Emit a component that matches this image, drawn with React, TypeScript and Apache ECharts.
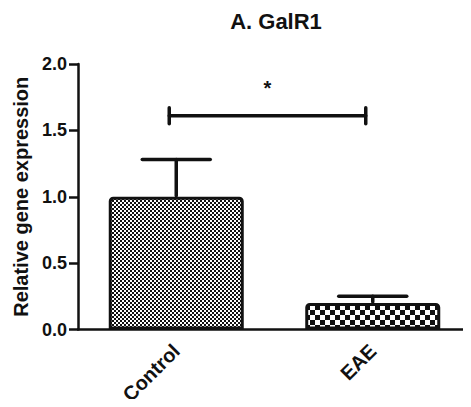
import React, { useEffect, useRef } from "react";
import * as echarts from "echarts";

const categories = ["Control", "EAE"];
const means = [1.0, 0.2];
const errorTops = [1.28, 0.25];
const sigLevel = 1.61;
const sigLabel = "*";
const yTicks = [0, 0.5, 1.0, 1.5, 2.0];

function makeChecker(cell: number) {
  const c = document.createElement("canvas");
  c.width = cell * 2;
  c.height = cell * 2;
  const ctx = c.getContext("2d")!;
  ctx.fillStyle = "#ffffff";
  ctx.fillRect(0, 0, cell * 2, cell * 2);
  ctx.fillStyle = "#111111";
  ctx.fillRect(0, 0, cell, cell);
  ctx.fillRect(cell, cell, cell, cell);
  return c;
}

export default function App() {
  const ref = useRef<HTMLDivElement>(null);
  useEffect(() => {
    if (!ref.current) return;
    const chart = echarts.init(ref.current, null, { renderer: "svg" });
    const fine = makeChecker(2);
    const coarse = makeChecker(5);
    const patterns = [
      { image: fine, repeat: "repeat", imageWidth: 4, imageHeight: 4 },
      { image: coarse, repeat: "repeat", imageWidth: 10, imageHeight: 10 },
    ];
    const font = "'Liberation Sans', Arial, sans-serif";
    chart.setOption({
      animation: false,
      title: {
        text: "A. GalR1",
        left: 271,
        textAlign: "center",
        top: 5,
        textStyle: { fontFamily: font, fontWeight: "bold", fontSize: 22, color: "#111" },
      },
      grid: { left: 78, right: -7, top: 64, bottom: 77, containLabel: false },
      xAxis: {
        type: "category",
        data: categories,
        axisLine: { lineStyle: { color: "#111", width: 2.5 } },
        axisTick: { alignWithLabel: true, length: 8, lineStyle: { color: "#111", width: 2.5 } },
        axisLabel: {
          rotate: 45,
          margin: 18,
          fontFamily: font,
          fontWeight: "bold",
          fontSize: 20,
          color: "#111",
        },
      },
      yAxis: {
        type: "value",
        min: 0,
        max: 2,
        interval: 0.5,
        name: "Relative gene expression",
        nameLocation: "middle",
        nameGap: 47,
        nameTextStyle: { fontFamily: font, fontWeight: "bold", fontSize: 20, color: "#111" },
        axisLine: { show: true, lineStyle: { color: "#111", width: 2.5 } },
        axisTick: { show: true, length: 9, lineStyle: { color: "#111", width: 2.5 } },
        splitLine: { show: false },
        axisLabel: {
          margin: 11,
          fontFamily: font,
          fontWeight: "bold",
          fontSize: 18,
          color: "#111",
          formatter: (v: number) => (yTicks.includes(v) ? v.toFixed(1) : ""),
        },
      },
      series: [
        {
          type: "bar",
          barWidth: 135,
          data: means.map((v, i) => ({
            value: v,
            itemStyle: {
              color: patterns[i],
              borderColor: "#111",
              borderWidth: 3,
              borderRadius: [3, 3, 0, 0],
            },
          })),
          z: 2,
        },
        {
          type: "custom",
          z: 3,
          data: means.map((m, i) => [i, m, errorTops[i]]),
          renderItem: (params: any, api: any) => {
            const x = api.value(0);
            const base = api.coord([x, api.value(1)]);
            const top = api.coord([x, api.value(2)]);
            const half = 34;
            const style = { stroke: "#111", lineWidth: 3.5, lineCap: "round" };
            return {
              type: "group",
              children: [
                { type: "line", shape: { x1: top[0], y1: base[1] - 1, x2: top[0], y2: top[1] }, style },
                { type: "line", shape: { x1: top[0] - half, y1: top[1], x2: top[0] + half, y2: top[1] }, style },
              ],
            };
          },
        },
        {
          type: "custom",
          z: 3,
          data: [[0, 1, sigLevel]],
          renderItem: (params: any, api: any) => {
            const a = api.coord([api.value(0), api.value(2)]);
            const b = api.coord([api.value(1), api.value(2)]);
            const off = -7;
            const x1 = a[0] + off;
            const x2 = b[0] + off;
            const y = a[1];
            const style = { stroke: "#111", lineWidth: 3.5, lineCap: "round" };
            return {
              type: "group",
              children: [
                { type: "line", shape: { x1, y1: y, x2, y2: y }, style },
                { type: "line", shape: { x1, y1: y - 8, x2: x1, y2: y + 8 }, style },
                { type: "line", shape: { x1: x2, y1: y - 8, x2, y2: y + 8 }, style },
                {
                  type: "text",
                  style: {
                    text: sigLabel,
                    x: (x1 + x2) / 2,
                    y: y - 28,
                    align: "center",
                    verticalAlign: "middle",
                    font: "bold 20px " + font,
                    fill: "#111",
                  },
                },
              ],
            };
          },
        },
      ],
    });
    return () => chart.dispose();
  }, []);
  return <div ref={ref} style={{ width: 471, height: 407, margin: -8, background: "#fff" }} />;
}
